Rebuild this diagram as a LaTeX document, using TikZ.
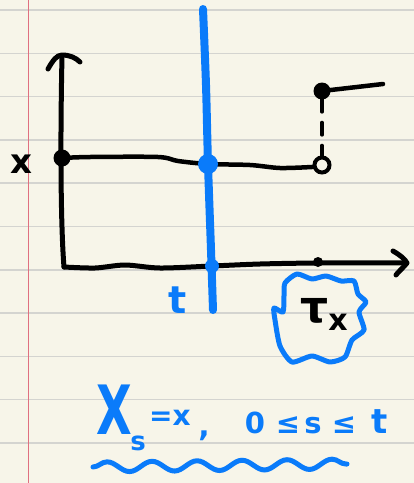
\documentclass[tikz,border=0pt]{standalone}
\usepackage{fontspec}
\setmainfont{DejaVu Sans}
\usetikzlibrary{decorations.pathmorphing}
\definecolor{paper}{HTML}{F7F5E9}
\definecolor{rulec}{HTML}{D4D4D0}
\definecolor{marginc}{HTML}{E07080}
\definecolor{pen}{HTML}{0A7BFA}
\tikzset{
  ink/.style={draw=black, line width=5pt, line cap=round, line join=round},
  blueink/.style={draw=pen, line width=8pt, line cap=round, line join=round},
  bdot/.style={circle, fill=black, inner sep=0pt, minimum size=#1},
  pdot/.style={circle, fill=pen, inner sep=0pt, minimum size=#1},
  handb/.style={font=\bfseries, text=black, inner sep=0pt},
  handp/.style={text=pen, inner sep=0pt, anchor=base}
}
\begin{document}
\begin{tikzpicture}[x=1pt,y=-1pt]
\fill[paper] (0,0) rectangle (414,483);
\useasboundingbox (0,0) rectangle (414,483);
\foreach \i in {0,...,10} \draw[rulec, line width=1.5pt] (0,{10+43.3*\i}) -- (414,{10+43.3*\i});
\draw[marginc, line width=1pt] (28,0) -- (28,483);
% coordinates
\coordinate (ytop) at (62,56);
\coordinate (orig) at (64,267);
\coordinate (xend) at (407,263);
% dots
\node[bdot=17pt] (x0) at (62,158) {};
\node[bdot=10pt] (tau) at (318,262) {};
\node[circle, draw=black, line width=4pt, inner sep=0pt, minimum size=15pt] (open) at (322,165) {};
\node[bdot=17pt] (jump) at (322,91) {};
\coordinate (jend) at (383,84);
% axes
\draw[ink] (ytop) .. controls (60,150) and (61,230) .. (orig);
\draw[ink] plot[smooth] coordinates {(orig) (95,268) (125,265) (160,268) (212,266) (260,264) (318,263) (xend)};
\draw[ink] (48,69) .. controls (53,60) and (57,55) .. (62,55) .. controls (70,55) and (76,58) .. (80,62);
\draw[ink] (393,251) .. controls (400,255) and (405,259) .. (xend) .. controls (403,268) and (398,272) .. (396,275);
% path
\draw[ink, line width=4.5pt] plot[smooth] coordinates {(x0.center) (90,157) (158,157) (178,161) (208,164) (250,165) (280,168) (312,167)} -- (open);
\draw[ink, line width=4pt, dash pattern=on 12pt off 11pt] (jump) -- (open);
\draw[ink, line width=4.5pt] (jump.center) -- (jend);
\node[handb, font=\bfseries\fontsize{34}{34}\selectfont] (xl) at (21,164) {x};
% blue line
\draw[blueink] plot[smooth] coordinates {(203,9) (206,85) (208,164) (211,250) (213,310)};
\node[pdot=20pt] (cross) at (208,164) {};
\node[pdot=14pt] (tpt) at (212,266) {};
\node[handp, font=\bfseries\fontsize{38}{38}\selectfont] (tl) at (178,313) {t};
% tau label and scribble
\node[handb, anchor=base] (taul) at (324,322) {{\fontsize{44}{44}\selectfont τ}\raisebox{-8pt}{\fontsize{30}{30}\selectfont x}};
\draw[pen, line width=5pt, line cap=round, line join=round] plot[smooth cycle, tension=0.4] coordinates {(297,274) (312,279) (326,276) (341,281) (354,281) (358,294) (366,302) (359,312) (364,330) (352,340) (345,357) (330,362) (312,356) (292,362) (280,346) (275,320) (274,308) (283,312) (284,296) (285,283)};
% formula
\node[handp, font=\bfseries\fontsize{68}{68}\selectfont] (fX) at (114,434) {\scalebox{0.68}[1]{X}};
\node[handp, font=\bfseries\fontsize{26}{26}\selectfont] (fs) at (138,450) {s};
\node[handp, font=\bfseries\fontsize{28}{28}\selectfont] (feq) at (170,425) {=x};
\node[handp, font=\bfseries\fontsize{30}{30}\selectfont] (fc) at (204,436) {,};
\node[handp, font=\bfseries\fontsize{29}{29}\selectfont] (f0) at (255,433) {0};
\node[handp, font=\bfseries\fontsize{29}{29}\selectfont] (fl1) at (288,433) {≤};
\node[handp, font=\bfseries\fontsize{29}{29}\selectfont] (fs2) at (313,433) {s};
\node[handp, font=\bfseries\fontsize{29}{29}\selectfont] (fl2) at (344,433) {≤};
\node[handp, font=\bfseries\fontsize{34}{34}\selectfont] (ft) at (380,433) {t};
\draw[pen, line width=5pt, line cap=round, decorate, decoration={snake, segment length=45pt, amplitude=5pt}] (93,467) -- (347,464);
\end{tikzpicture}
\end{document}
